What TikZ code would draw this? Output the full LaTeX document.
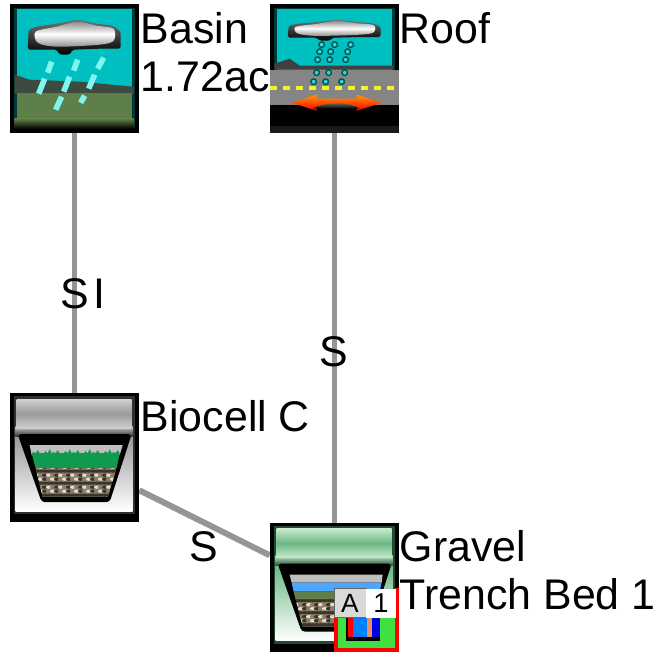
\documentclass[tikz,border=0pt]{standalone}
\usepackage{xcolor}
\usepackage{fontspec}
\setmainfont{Liberation Sans}
\usepackage{tikz}

\definecolor{skyteal}{HTML}{00BFC0}
\definecolor{raincyan}{HTML}{7FF5F0}
\definecolor{hillgreen}{HTML}{5F7F48}
\definecolor{hilldark}{HTML}{3C4A40}
\definecolor{roadgray}{HTML}{858585}
\definecolor{lineyellow}{HTML}{F4F030}
\definecolor{grassgreen}{HTML}{109A50}
\definecolor{pipegray}{HTML}{959595}
\definecolor{badgegreen}{HTML}{40E040}
\definecolor{barorange}{HTML}{E89060}
\definecolor{biomid}{HTML}{9A9A9A}
\definecolor{biolight}{HTML}{D0D0D0}
\definecolor{biodark}{HTML}{303030}
\definecolor{gravelmid}{HTML}{6DB884}
\definecolor{gravellight}{HTML}{C5EBCB}
\definecolor{graveldark}{HTML}{1F4A30}
\definecolor{rockshade0}{HTML}{3A342A}
\definecolor{rockshade1}{HTML}{E4DECB}
\definecolor{rockshade2}{HTML}{8A7E68}

\tikzset{
  iconbox/.style = {minimum width = 2.58cm, minimum height = 2.58cm, inner sep = 0pt},
  pipe/.style = {draw = pipegray, line width = 3.4pt},
  nametext/.style = {anchor = north west, inner sep = 0pt, align = left,
    font = \fontsize{24.4}{27.3}\selectfont},
  linktext/.style = {inner sep = 0pt, font = \fontsize{24.4}{27.3}\selectfont},
  raindrop/.style = {draw = raincyan, line width = 3.2pt},
  roofdrop/.style = {draw = skyteal!45!black, fill = skyteal!60!raincyan, line width = .8pt}
}

\newcommand{\skyicon}{
  \fill[black] (0,0) rectangle (129,129);
  \fill[black!70!skyteal] (4,4) rectangle (125,124);
  \fill[skyteal] (7,5) rectangle (122,120);
}
\newcommand{\cloudicon}[2]{
  \begin{scope}[shift = {(0,#1)}, yscale = #2]
  \shade[top color = black!55, bottom color = black, rounded corners = 1pt] (19,26) -- (27,23) -- (47,20) -- (68,16) -- (87,20) -- (103,22) -- (111,28) -- (111,45) -- (90,45) -- (63,46) -- (60,51) -- (50,51) -- (47,46) -- (18,46) -- cycle;
  \shade[top color = black!45, bottom color = black!45, middle color = white] plot[smooth cycle] coordinates {(26,28) (47,23) (68,18) (87,22) (104,25) (104,37) (90,41) (47,43) (28,39)};
  \end{scope}
}
\newcommand{\bedicon}[3]{
  \fill[black] (0,0) rectangle (129,129);
  \fill[#3] (4,3) rectangle (125,121);
  \shade[top color = #1, bottom color = white] (6,43) rectangle (123,118);
  \shade[top color = #2, bottom color = #3] (6,33) rectangle (123,43);
  \shade[top color = #2, bottom color = #2, middle color = #1] (7,6) rectangle (122,35);
  \fill[black, rounded corners = 2pt] (8,41) -- (122,41) -- (100,109) -- (32,109) -- cycle;
}
\newcommand{\rockicon}[2]{
  \begin{scope}
  \clip (26,#1) -- (107,#1) -- (98,#2) -- (33,#2) -- cycle;
  \fill[rockshade2] (26,#1) rectangle (107,#2);
  \foreach \i in {27,31,...,107}
    \foreach \j in {74,78,...,106} {
      \pgfmathtruncatemacro{\k}{mod(\i*\j+\j,3)}
      \fill[rockshade\k] (\i,\j) ellipse (2.8 and 1.6);
    }
  \end{scope}
}

\begin{document}
\begin{tikzpicture}[x = .02cm, y = -.02cm]

\useasboundingbox (0,0) rectangle (668,654);

\node[iconbox] (Basin) at (74.5,68.5) {};
\node[iconbox] (Roof) at (334.5,68.5) {};
\node[iconbox] (Biocell) at (74.5,458) {};
\node[iconbox] (Gravel) at (334.5,587.5) {};

\draw[pipe] (Basin) to (Biocell);
\draw[pipe] (Roof) to (Gravel);
\draw[pipe] (Biocell) to (Gravel);

\begin{scope}[shift = {(Basin.north west)}]
\skyicon
\fill[hilldark] (5,71) -- (20,76) -- (70,78) -- (124,83) -- (124,90) -- (5,90) -- cycle;
\fill[hillgreen] (7,89) rectangle (122,119);
\shade[top color = hillgreen, bottom color = black] (5,115) rectangle (124,125);
\cloudicon{0}{1}
\foreach \xa/\ya/\xb/\yb in {42/58/38/69, 68/56/64/67, 94/54/88/65, 35/75/29/90, 60/73/54/88, 85/71/79/85, 52/93/46/106, 75/92/71/99}
  \draw[raindrop] (\xa,\ya) to (\xb,\yb);
\end{scope}

\begin{scope}[shift = {(Roof.north west)}]
\skyicon
\fill[black!75] (5,60) -- (20,55) -- (30,62) -- (124,62) -- (124,66) -- (5,66) -- cycle;
\fill[roadgray] (0,66) rectangle (129,101);
\fill[black] (3,101) rectangle (126,122);
\fill[black!80!gray] (0,122) rectangle (129,129);
\foreach \i in {0,13,...,125}
  \fill[lineyellow] (\i,82.5) rectangle ++(7,4);
\shade[top color = orange!80!yellow, bottom color = red] (22,99) -- (47,91) -- (47,95) -- (87,95) -- (87,91) -- (112,99) -- (87,107) -- (87,103) -- (47,103) -- (47,107) -- cycle;
\shade[top color = black!50, bottom color = black] (43,105) .. controls (55,98) and (80,98) .. (90,105) -- cycle;
\cloudicon{6.4}{.6}
\foreach \i/\j in {52/41, 50/48, 48/56, 65/41, 61/48, 60/56, 81/41, 78/48, 76/56, 47/69, 44/78, 59/69, 56/78, 75/69, 72/78}
  \draw[roofdrop] (\i,\j) circle (2.8);
\end{scope}

\begin{scope}[shift = {(Biocell.north west)}]
\bedicon{biomid}{biolight}{biodark}
\fill[black!25] (20,52) -- (113,52) -- (110,62) -- (22,62) -- cycle;
\fill[grassgreen] (22,60) \foreach \i in {24,28,...,108} { -- (\i,{56+mod(\i*7,5)}) -- (\i+2,60) } -- (110,60) -- (107,75) -- (26,75) -- cycle;
\rockicon{75}{104}
\end{scope}

\begin{scope}[shift = {(Gravel.north west)}]
\bedicon{gravelmid}{gravellight}{graveldark}
\fill[black!25] (20,52) -- (113,52) -- (112,60) -- (22,60) -- cycle;
\fill[blue!50!cyan!70!white] (22,60) -- (112,60) -- (110,69) -- (24,69) -- cycle;
\fill[hillgreen] (24,69) -- (110,69) -- (108,77) -- (26,77) -- cycle;
\rockicon{77}{104}
\fill[badgegreen] (64,94) rectangle (129,129);
\fill[black] (76,94) rectangle (110,118);
\fill[red] (78,94) rectangle (83,114);
\fill[blue!50!cyan] (83,94) rectangle (97,114);
\fill[barorange] (97,94) rectangle (102,114);
\fill[blue!90!black] (102,94) rectangle (110,114);
\draw[red, line width = 2.3pt] (66,94) -- (66,127) -- (127,127) -- (127,65);
\end{scope}

\node[draw = black!60, fill = black!15, minimum width = .64cm, minimum height = .58cm, inner sep = 0pt, font = \fontsize{15}{15}\selectfont] (Abutton) at (350,603) {A};
\node[fill = white, minimum width = .6cm, minimum height = .58cm, inner sep = 0pt, font = \fontsize{15.5}{15.5}\selectfont] (Onebox) at (381,603) {1};

\node[nametext] (BasinName) at (140.5,12) {Basin\\1.72ac};
\node[nametext] (RoofName) at (399.5,12) {Roof};
\node[nametext] (BiocellName) at (140.5,400) {Biocell C};
\node[nametext] (GravelName) at (399.5,530.5) {Gravel\\Trench Bed 1};

\node[linktext] (BasinLink) at (83,294) {\spaceskip=.12em S I};
\node[linktext] (RoofLink) at (334,352) {S};
\node[linktext] (BiocellLink) at (204,547) {S};

\end{tikzpicture}
\end{document}
